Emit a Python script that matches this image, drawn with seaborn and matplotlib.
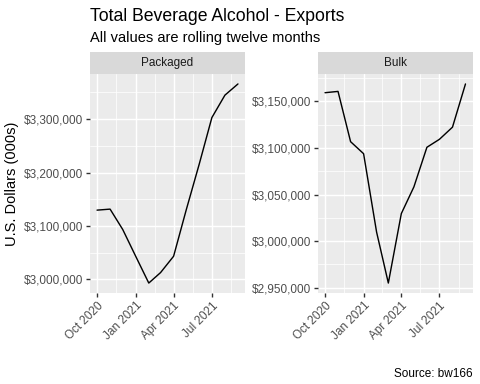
import numpy as np
import pandas as pd
import matplotlib
matplotlib.use("Agg")
import matplotlib.pyplot as plt
import matplotlib.dates as mdates
from matplotlib.ticker import MultipleLocator, FixedLocator, FuncFormatter
from matplotlib.patches import Rectangle
import seaborn as sns

# ---- data ----
months = ["2020-10-01", "2020-11-01", "2020-12-01", "2021-01-01", "2021-02-01", "2021-03-01",
          "2021-04-01", "2021-05-01", "2021-06-01", "2021-07-01", "2021-08-01", "2021-09-01"]
packaged = [3129600, 3131500, 3093400, 3043000, 2993000, 3012600,
            3043200, 3130000, 3216000, 3303000, 3345000, 3366000]
bulk = [3159400, 3160800, 3106800, 3093900, 3009700, 2955000,
        3029600, 3058300, 3100800, 3109400, 3122400, 3168800]
panels = ["Packaged", "Bulk"]
x_tick_dates = ["2020-10-01", "2021-01-01", "2021-04-01", "2021-07-01"]
x_tick_labels = ["Oct 2020", "Jan 2021", "Apr 2021", "Jul 2021"]
x_minor_dates = ["2020-11-16", "2021-02-15", "2021-05-16", "2021-08-16"]
title = "Total Beverage Alcohol - Exports"
subtitle = "All values are rolling twelve months"
ylabel = "U.S. Dollars (000s)"
caption = "Source: bw166"

df = pd.DataFrame({
    "date": pd.to_datetime(months * 2),
    "value": packaged + bulk,
    "type": [panels[0]] * len(months) + [panels[1]] * len(months),
})

sns.set_theme(style="white")
plt.rcParams["font.family"] = ["Liberation Sans", "DejaVu Sans"]

W, H = 480, 384
fig = plt.figure(figsize=(4.8, 3.84), dpi=100)

def fx(px):
    return px / W

def fy(py):
    return 1 - py / H

panel_top, panel_bot = 74, 293
strip_h = 22
boxes = {"Packaged": (90, 245), "Bulk": (318, 472.5)}
ymaj = {"Packaged": 100000, "Bulk": 50000}

grid_lw_major = 1.02
grid_lw_minor = 0.51

for name in panels:
    x0, x1 = boxes[name]
    ax = fig.add_axes([fx(x0), fy(panel_bot), (x1 - x0) / W, (panel_bot - panel_top) / H])
    ax.set_facecolor("#EBEBEB")
    sub = df[df["type"] == name]
    sns.lineplot(data=sub, x="date", y="value", ax=ax, color="black", linewidth=1.02)
    ax.margins(x=0.05, y=0.05)
    # y ticks
    ax.yaxis.set_major_locator(MultipleLocator(ymaj[name]))
    ax.yaxis.set_minor_locator(MultipleLocator(ymaj[name] / 2))
    ax.yaxis.set_major_formatter(FuncFormatter(lambda v, p: "${:,.0f}".format(v)))
    # x ticks
    ax.xaxis.set_major_locator(FixedLocator(mdates.date2num(pd.to_datetime(x_tick_dates))))
    ax.set_xticklabels(x_tick_labels)
    ax.xaxis.set_minor_locator(FixedLocator(mdates.date2num(pd.to_datetime(x_minor_dates))))
    ax.grid(which="major", color="white", linewidth=grid_lw_major)
    ax.grid(which="minor", color="white", linewidth=grid_lw_minor)
    ax.set_axisbelow(True)
    for s in ax.spines.values():
        s.set_visible(False)
    ax.tick_params(which="major", length=2.66, width=1.0, color="#333333",
                   labelsize=8.45, labelcolor="#4D4D4D", pad=2.1,
                   bottom=True, left=True)
    ax.tick_params(which="minor", length=0)
    for lab in ax.get_xticklabels():
        lab.set_rotation(45)
        lab.set_ha("right")
        lab.set_va("top")
        lab.set_rotation_mode("anchor")
    ax.set_xlabel("")
    ax.set_ylabel("")
    # strip
    frac = strip_h / (panel_bot - panel_top)
    ax.add_patch(Rectangle((0, 1), 1, frac, transform=ax.transAxes, clip_on=False,
                           facecolor="#D9D9D9", edgecolor="none"))
    ax.text(0.5, 1 + frac / 2, name, transform=ax.transAxes, ha="center", va="center",
            fontsize=8.45, color="#1A1A1A")

fig.text(fx(90), fy(21), title, fontsize=12.67, color="black", ha="left", va="baseline")
fig.text(fx(90), fy(42), subtitle, fontsize=10.56, color="black", ha="left", va="baseline")
fig.text(fx(12), fy((panel_top + panel_bot) / 2), ylabel, fontsize=10.56, rotation=90,
         ha="center", va="center", color="black")
fig.text(fx(472.5), fy(377), caption, fontsize=8.45, ha="right", va="baseline", color="black")

fig.savefig("out.png", dpi=100, facecolor="white")
